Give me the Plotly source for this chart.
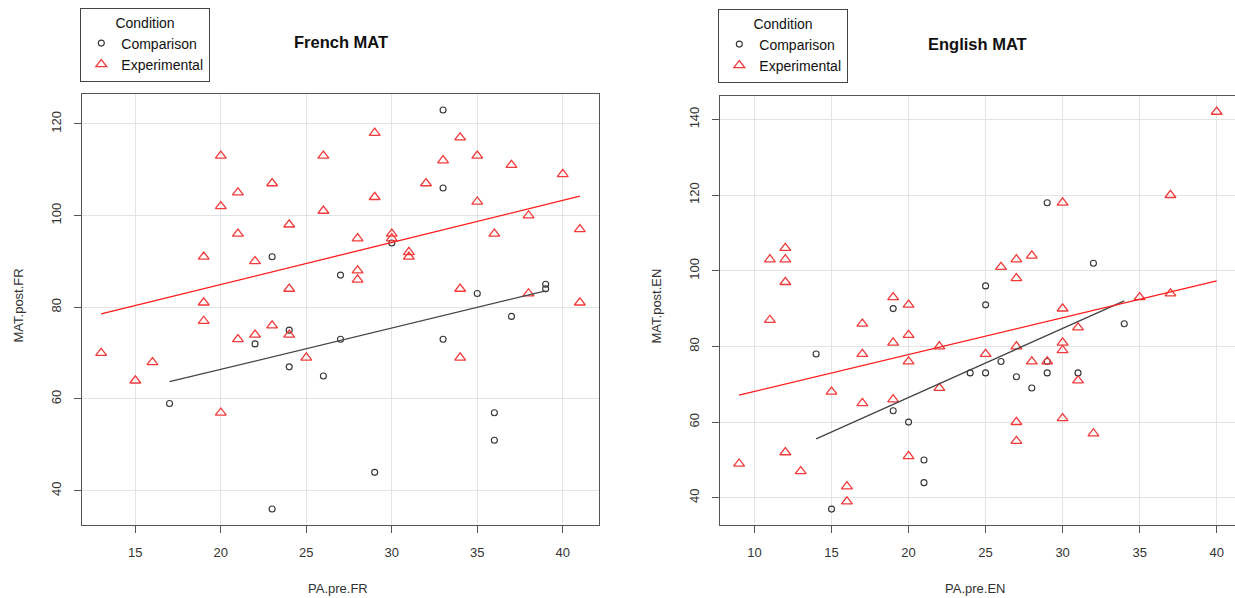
import numpy as np
import plotly.graph_objects as go

# ---------------- data ----------------
# French panel
fr_comp_x = [17, 22, 23, 23, 24, 24, 26, 27, 27, 29, 30, 33, 33, 33, 35, 36, 36, 37, 39, 39]
fr_comp_y = [59, 72, 36, 91, 75, 67, 65, 73, 87, 44, 94, 123, 106, 73, 83, 57, 51, 78, 85, 84]

fr_exp_x = [13, 15, 16, 19, 19, 19, 20, 20, 20, 21, 21, 21, 22, 22, 23, 23, 24, 24, 24, 25,
            26, 26, 28, 28, 28, 29, 29, 30, 30, 31, 31, 32, 33, 34, 34, 34, 35, 35, 36, 37,
            38, 38, 40, 41, 41]
fr_exp_y = [70, 64, 68, 91, 81, 77, 113, 102, 57, 105, 96, 73, 90, 74, 107, 76, 98, 84, 74, 69,
            113, 101, 95, 88, 86, 118, 104, 96, 95, 92, 91, 107, 112, 117, 84, 69, 113, 103, 96, 111,
            100, 83, 109, 97, 81]

# English panel
en_comp_x = [14, 15, 19, 19, 20, 21, 21, 24, 25, 25, 25, 26, 27, 28, 29, 29, 29, 31, 32, 34]
en_comp_y = [78, 37, 90, 63, 60, 50, 44, 73, 96, 91, 73, 76, 72, 69, 118, 73, 76, 73, 102, 86]

en_exp_x = [9, 11, 11, 12, 12, 12, 12, 13, 15, 16, 16, 17, 17, 17, 19, 19, 19, 20, 20, 20,
            20, 22, 22, 25, 26, 27, 27, 27, 27, 27, 28, 28, 29, 30, 30, 30, 30, 30, 31, 31,
            32, 35, 37, 37, 40]
en_exp_y = [49, 103, 87, 106, 103, 97, 52, 47, 68, 43, 39, 86, 78, 65, 93, 81, 66, 91, 83, 76,
            51, 80, 69, 78, 101, 103, 98, 80, 60, 55, 104, 76, 76, 118, 90, 81, 79, 61, 85, 71,
            57, 93, 120, 94, 142]

group_names = ["Comparison", "Experimental"]
panel_titles = ["French MAT", "English MAT"]
x_titles = ["PA.pre.FR", "PA.pre.EN"]
y_titles = ["MAT.post.FR", "MAT.post.EN"]
x_ticks = [[15, 20, 25, 30, 35, 40], [10, 15, 20, 25, 30, 35, 40]]
y_ticks = [[40, 60, 80, 100, 120], [40, 60, 80, 100, 120, 140]]

# ---------------- style ----------------
W, H = 1235, 598
FONT = "Liberation Sans, Arial, sans-serif"
COMP_COLOR = "#333333"
EXP_COLOR = "#f23a3a"
EXP_LINE = "#ff1a1a"
GRID = "#e4e4e4"
AXLINE = "#555555"
TXT = "#333333"

panels = [
    dict(cx=fr_comp_x, cy=fr_comp_y, ex=fr_exp_x, ey=fr_exp_y,
         px=(82, 599), py=(94, 525), xr=(11.88, 42.12), yr=(32.52, 126.48),
         legend="legend", leg_px=(80, 8), title_y=42),
    dict(cx=en_comp_x, cy=en_comp_y, ex=en_exp_x, ey=en_exp_y,
         px=(720, 1235), py=(96, 525), xr=(7.76, 41.19), yr=(32.8, 146.2),
         legend="legend2", leg_px=(718, 9), title_y=44),
]

fig = go.Figure()
annotations = []

for i, p in enumerate(panels):
    sfx = "" if i == 0 else str(i + 1)
    xa, ya = "x" + sfx, "y" + sfx

    # points
    fig.add_trace(go.Scatter(
        x=p["cx"], y=p["cy"], mode="markers", name=group_names[0],
        xaxis=xa, yaxis=ya, legend=p["legend"],
        marker=dict(symbol="circle-open", size=6, color=COMP_COLOR, line=dict(width=1.1)),
        cliponaxis=False))
    fig.add_trace(go.Scatter(
        x=p["ex"], y=p["ey"], mode="markers", name=group_names[1],
        xaxis=xa, yaxis=ya, legend=p["legend"],
        marker=dict(symbol="triangle-up-open", size=9.5, color=EXP_COLOR, line=dict(width=1.3)),
        cliponaxis=False))

    # regression lines (fit per group, over each group's range)
    for gx, gy, col in [(p["cx"], p["cy"], "#444444"), (p["ex"], p["ey"], EXP_LINE)]:
        gx_a = np.array(gx, float)
        gy_a = np.array(gy, float)
        b, a = np.polyfit(gx_a, gy_a, 1)
        lx = np.array([gx_a.min(), gx_a.max()])
        fig.add_trace(go.Scatter(
            x=lx, y=a + b * lx, mode="lines", showlegend=False, hoverinfo="skip",
            xaxis=xa, yaxis=ya, line=dict(color=col, width=1.3)))

    x0, x1 = p["px"]
    y0, y1 = p["py"]
    common = dict(showgrid=True, gridcolor=GRID, gridwidth=1, zeroline=False,
                  showline=True, linecolor=AXLINE, linewidth=1.2, mirror=True,
                  ticks="outside", ticklen=7, tickcolor=AXLINE, tickwidth=1,
                  tickfont=dict(family=FONT, size=13, color=TXT), ticklabelstandoff=8)
    fig.update_layout(**{
        "xaxis" + sfx: dict(domain=[x0 / W, min(x1 / W, 1.0)], range=list(p["xr"]),
                            tickvals=x_ticks[i], anchor=ya, **common),
        "yaxis" + sfx: dict(domain=[1 - y1 / H, 1 - y0 / H], range=list(p["yr"]),
                            tickvals=y_ticks[i], anchor=xa, tickangle=-90, **common),
    })

    cx = (x0 + min(x1, 1236)) / 2
    # panel title
    annotations.append(dict(text="<b>%s</b>" % panel_titles[i], x=cx / W, y=1 - p["title_y"] / H,
                            xref="paper", yref="paper", showarrow=False,
                            xanchor="center", yanchor="middle",
                            font=dict(family=FONT, size=16.5, color="#111111")))
    # axis titles
    annotations.append(dict(text=x_titles[i], x=(cx - 3) / W, y=1 - 588 / H,
                            xref="paper", yref="paper", showarrow=False,
                            xanchor="center", yanchor="middle",
                            font=dict(family=FONT, size=13, color=TXT)))
    annotations.append(dict(text=y_titles[i], x=(x0 - 64) / W, y=1 - ((y0 + y1) / 2 - 4) / H,
                            xref="paper", yref="paper", showarrow=False, textangle=-90,
                            xanchor="center", yanchor="middle",
                            font=dict(family=FONT, size=13, color=TXT)))

    lx_, ly_ = p["leg_px"]
    fig.update_layout(**{
        p["legend"]: dict(
            x=lx_ / W, y=1 - ly_ / H, xanchor="left", yanchor="top",
            bgcolor="white", bordercolor="#444444", borderwidth=1.3,
            font=dict(family=FONT, size=14, color="#111111"),
            title=dict(text="Condition", side="top center",
                       font=dict(family=FONT, size=14, color="#111111")),
            itemwidth=30, tracegroupgap=0, itemclick=False, itemdoubleclick=False,
        )
    })

fig.update_layout(
    width=W, height=H,
    margin=dict(l=0, r=0, t=0, b=0),
    paper_bgcolor="white", plot_bgcolor="white",
    annotations=annotations,
    showlegend=True,
)

# remove the browser's default page margin so the figure fills the window exactly
fig.write_html("out.html",
               config={"displayModeBar": False},
               post_script="document.body.style.margin='0';document.body.style.overflow='hidden';")
